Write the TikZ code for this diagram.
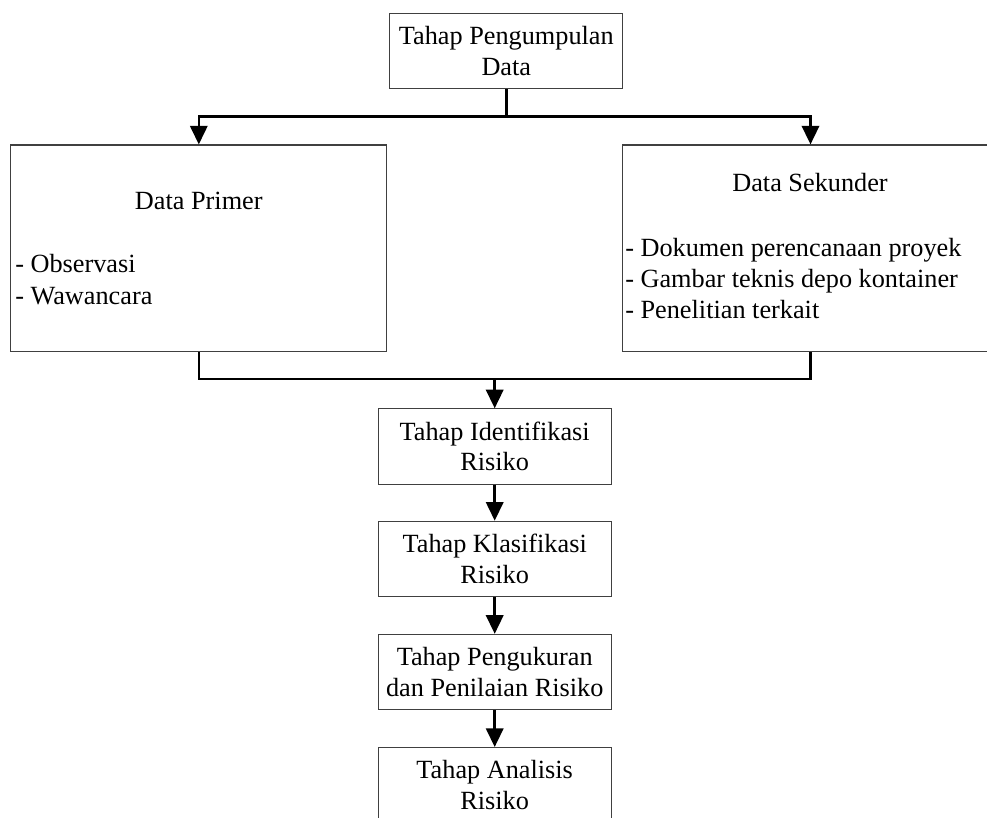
\documentclass[tikz,border=0pt]{standalone}
\usepackage{fontspec}
\setmainfont{Liberation Serif}
\usetikzlibrary{arrows.meta}
\begin{document}
\begin{tikzpicture}[x=0.75pt,y=-0.75pt,
  box/.style={draw=black!75,line width=0.8pt,minimum width=174.6pt,minimum height=56.5pt,inner sep=0pt,align=center,font=\fontsize{19.7}{23}\selectfont},
  bigbox/.style={draw=black!75,line width=0.8pt,minimum width=281.8pt,minimum height=155pt,inner sep=0pt},
  txt/.style={inner sep=0pt,font=\fontsize{19.7}{23}\selectfont},
  conn/.style={line width=1.9pt,black},
  arr/.style={conn,-{Triangle[width=13pt,length=14pt]}}]
\useasboundingbox (0,0) rectangle (987,817);
\clip (0,0) rectangle (987,817);
\node[box] (top) at (506.3,51.2) {Tahap Pengumpulan\\Data};
\node[bigbox] (prim) at (198.8,248.3) {};
\node[bigbox] (sek) at (810.5,248.3) {};
\node[txt,anchor=base] (primT) at (198.8,209) {Data Primer};
\node[txt,anchor=base west] (prim1) at (15,272.7) {- Observasi};
\node[txt,anchor=base west] (prim2) at (15,304) {- Wawancara};
\node[txt,anchor=base] (sekT) at (810,191.7) {Data Sekunder};
\node[txt,anchor=base west] (sek1) at (625,256.7) {- Dokumen perencanaan proyek};
\node[txt,anchor=base west] (sek2) at (625,287.7) {- Gambar teknis depo kontainer};
\node[txt,anchor=base west] (sek3) at (625,318.3) {- Penelitian terkait};
\node[box] (ident) at (494.7,446.5) {Tahap Identifikasi\\Risiko};
\node[box] (klas) at (494.7,558.9) {Tahap Klasifikasi\\Risiko};
\node[box] (ukur) at (494.7,672) {Tahap Pengukuran\\dan Penilaian Risiko};
\node[box] (anal) at (494.7,785.2) {Tahap Analisis\\Risiko};
\coordinate (j1) at (506.3,116.7);
\coordinate (j2) at (494.7,379);
\draw[conn] (top.south) -- (j1);
\draw[arr] (j1) -| (prim.north);
\draw[arr] (j1) -| (sek.north);
\draw[conn] (prim.south) |- (j2) -| (sek.south);
\draw[arr] (j2) -- (ident.north);
\draw[arr] (ident.south) -- (klas.north);
\draw[arr] (klas.south) -- (ukur.north);
\draw[arr] (ukur.south) -- (anal.north);
\end{tikzpicture}
\end{document}
